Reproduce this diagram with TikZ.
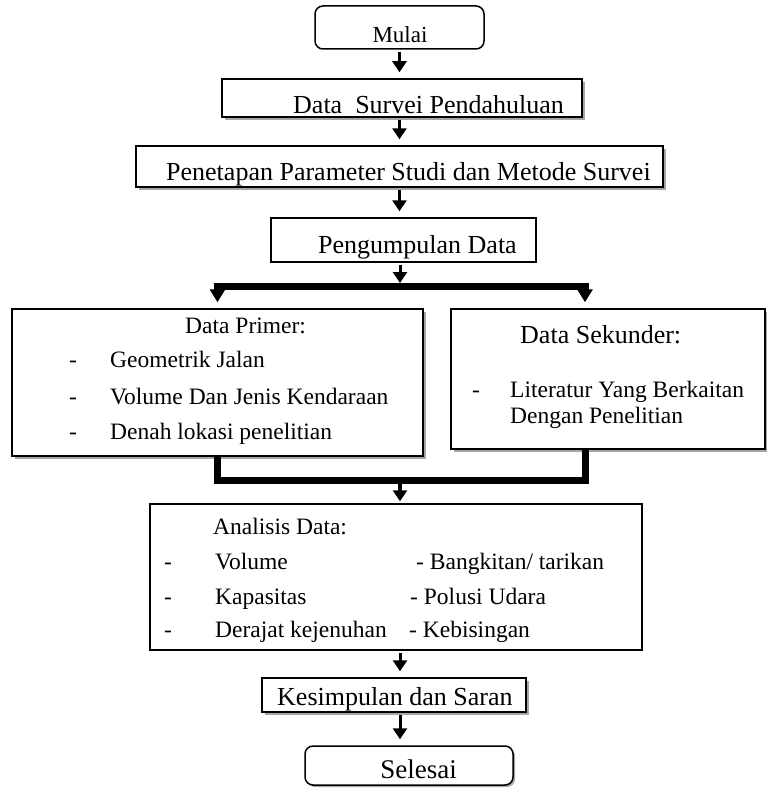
\documentclass[tikz,border=0pt]{standalone}
\usepackage{fontspec}
\setmainfont{Liberation Serif}
\usetikzlibrary{arrows.meta,positioning,shadows}

\tikzset{
  box/.style={draw, line width=1.5pt, fill=white, inner sep=0pt},
  shadebox/.style={box, drop shadow={shadow xshift=3pt, shadow yshift=-3pt, fill=gray!70, opacity=1}},
  termbox/.style={box, rounded corners=8pt},
  txt/.style={anchor=base west, inner sep=0pt, font=\fontsize{26}{30}\selectfont},
  itemtxt/.style={anchor=base west, inner sep=0pt, font=\fontsize{23.5}{28}\selectfont},
  arr/.style={line width=3pt, -{Triangle[width=14pt,length=11pt]}, shorten >=6pt, shorten <=2pt},
  bus/.style={line width=7pt, line join=miter},
}

\begin{document}
\begin{tikzpicture}[x=1pt,y=-1pt]
\useasboundingbox (0,0) rectangle (766,792);

% boxes
\node[termbox, minimum width=169pt, minimum height=43pt] (mulai) at (399.5,27.5) {};
\node[shadebox, minimum width=360pt, minimum height=38pt] (survei) at (402,98) {};
\node[shadebox, minimum width=527pt, minimum height=41pt] (penetapan) at (399.5,166.5) {};
\node[box, minimum width=265pt, minimum height=44pt] (kumpul) at (403.5,240) {};
\node[shadebox, minimum width=411pt, minimum height=147pt] (primer) at (217.5,382.5) {};
\node[shadebox, minimum width=314pt, minimum height=140pt] (sekunder) at (608,379) {};
\node[box, minimum width=492pt, minimum height=146pt] (analisis) at (396,577) {};
\node[shadebox, minimum width=264pt, minimum height=34pt] (simpul) at (394,695) {};
\node[termbox, drop shadow={shadow xshift=2pt, shadow yshift=-2pt, fill=gray!70, opacity=1},
      minimum width=208pt, minimum height=39pt] (selesai) at (409,765.5) {};

% texts
\node[itemtxt, anchor=base, font=\fontsize{23}{27}\selectfont] (t-mulai) at (400,43) {Mulai};
\node[txt] (t-survei) at (293,113) {Data\ \ Survei Pendahuluan};
\node[txt] (t-penetapan) at (166,180) {Penetapan Parameter Studi dan Metode Survei};
\node[txt] (t-kumpul) at (318,253) {Pengumpulan Data};

\node[itemtxt] (t-primer) at (185,333) {Data Primer:};
\node[itemtxt] (d-geo) at (69,367) {-};
\node[itemtxt] (t-geo) at (110,367) {Geometrik Jalan};
\node[itemtxt] (d-vol) at (69,404) {-};
\node[itemtxt] (t-vol) at (110,404) {Volume Dan Jenis Kendaraan};
\node[itemtxt] (d-denah) at (69,439) {-};
\node[itemtxt] (t-denah) at (110,439) {Denah lokasi penelitian};

\node[txt] (t-sekunder) at (520,343) {Data Sekunder:};
\node[itemtxt] (d-lit) at (472,397) {-};
\node[itemtxt] (t-lit) at (510,397) {Literatur Yang Berkaitan};
\node[itemtxt] (t-lit2) at (510,423) {Dengan Penelitian};

\node[itemtxt] (t-analisis) at (213,534) {Analisis Data:};
\node[itemtxt] (d-volume) at (164,569) {-};
\node[itemtxt] (t-volume) at (215,569) {Volume};
\node[itemtxt] (t-bangkitan) at (416,569) {- Bangkitan/ tarikan};
\node[itemtxt] (d-kap) at (164,604) {-};
\node[itemtxt] (t-kap) at (215,604) {Kapasitas};
\node[itemtxt] (t-polusi) at (410,604) {- Polusi Udara};
\node[itemtxt] (d-derajat) at (164,637) {-};
\node[itemtxt] (t-derajat) at (215,637) {Derajat kejenuhan};
\node[itemtxt] (t-bising) at (409,637) {- Kebisingan};

\node[txt] (t-simpul) at (277,705) {Kesimpulan dan Saran};
\node[txt, anchor=base, font=\fontsize{27}{31}\selectfont] (t-selesai) at (418.5,778) {Selesai};

% connectors
\coordinate (split) at (400,286.5);
\coordinate (jR) at (585,286.5);
\coordinate (merge) at (400,480);

\draw[arr] (mulai.south) -- (mulai.south |- survei.north);
\draw[arr] (survei.south -| penetapan.north) -- (penetapan.north);
\draw[arr] (penetapan.south) -- (penetapan.south |- kumpul.north);
\draw[arr, shorten >=3.5pt] (kumpul.south -| split) -- (split);

\draw[bus, {Triangle[width=15pt,length=13pt]}-{Triangle[width=15pt,length=13pt]},
      shorten <=6pt, shorten >=6pt] (primer.north) |- (split) -| (jR |- sekunder.north);
\draw[bus] (primer.south) |- (merge) -| (jR |- sekunder.south);
\draw[arr, line width=4pt, shorten <=0pt, shorten >=2pt] (merge) -- (merge |- analisis.north);

\draw[arr] (analisis.south -| merge) -- (merge |- simpul.north);
\draw[arr] (simpul.south -| merge) -- (merge |- selesai.north);
\end{tikzpicture}
\end{document}
